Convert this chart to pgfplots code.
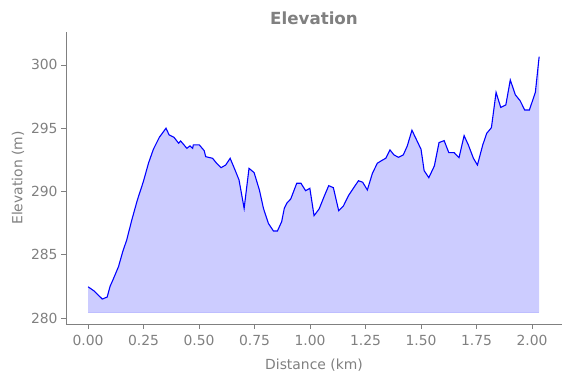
\documentclass[border=0pt]{standalone}
\usepackage{fontspec}
\setmainfont{DejaVu Sans}
\usepackage{pgfplots}
\usepackage{pgfplotstable}
\pgfplotsset{compat=1.18}
\usepgfplotslibrary{fillbetween}
\definecolor{txtgray}{RGB}{128,128,128}
\pgfplotstableread{
x y
0.000 282.47
0.028 282.13
0.064 281.50
0.086 281.66
0.099 282.50
0.114 283.10
0.137 284.06
0.156 285.24
0.174 286.17
0.197 287.75
0.222 289.33
0.249 290.78
0.272 292.23
0.294 293.33
0.321 294.28
0.351 295.00
0.365 294.47
0.387 294.28
0.408 293.81
0.417 293.99
0.445 293.41
0.459 293.60
0.471 293.41
0.474 293.68
0.501 293.68
0.523 293.23
0.530 292.75
0.561 292.62
0.579 292.23
0.599 291.88
0.620 292.09
0.640 292.62
0.662 291.70
0.680 290.91
0.703 288.67
0.725 291.83
0.748 291.49
0.772 290.10
0.790 288.67
0.812 287.49
0.835 286.88
0.853 286.88
0.872 287.61
0.884 288.67
0.895 289.07
0.913 289.41
0.940 290.65
0.959 290.65
0.980 290.06
0.999 290.25
1.018 288.09
1.041 288.62
1.063 289.59
1.084 290.46
1.105 290.30
1.129 288.48
1.150 288.85
1.173 289.67
1.195 290.25
1.218 290.85
1.237 290.73
1.258 290.12
1.281 291.44
1.303 292.23
1.327 292.49
1.341 292.62
1.360 293.28
1.378 292.89
1.398 292.70
1.420 292.89
1.438 293.60
1.459 294.84
1.480 294.07
1.500 293.33
1.514 291.64
1.535 291.09
1.560 292.02
1.581 293.86
1.604 294.02
1.625 293.07
1.649 293.07
1.671 292.67
1.694 294.41
1.713 293.68
1.736 292.62
1.754 292.09
1.778 293.68
1.796 294.60
1.817 295.04
1.838 297.83
1.859 296.64
1.882 296.84
1.902 298.81
1.925 297.63
1.946 297.18
1.967 296.44
1.988 296.44
2.015 297.83
2.032 300.65
}\elev
\begin{document}
\begin{tikzpicture}
\begin{axis}[
  scale only axis,
  width=496pt, height=292pt,
  xmin=-0.0995, xmax=2.135,
  ymin=279.53, ymax=302.6,
  axis lines=left,
  axis line style={-, txtgray, line width=0.8pt},
  tick style={txtgray, line width=0.8pt},
  tick align=outside,
  major tick length=4.9pt,
  xtick={0,0.25,0.5,0.75,1,1.25,1.5,1.75,2},
  ytick={280,285,290,295,300},
  xticklabel style={yshift=-3pt, /pgf/number format/.cd, fixed, fixed zerofill, precision=2},
  yticklabel style={/pgf/number format/.cd, fixed, precision=0},
  /pgf/number format/assume math mode=true,
  tick label style={font=\fontsize{13.9}{16}\selectfont, text=txtgray},
  label style={font=\fontsize{13.9}{16}\selectfont, text=txtgray},
  xlabel style={yshift=-6pt},
  title style={font=\fontsize{16.7}{19}\selectfont\bfseries, text=txtgray, yshift=-2pt},
  title={Elevation},
  xlabel={Distance (km)},
  ylabel={Elevation (m)},
  clip=false,
]
\addplot[draw=none, name path=top, forget plot] table[x=x,y=y] {\elev};
\addplot[draw=blue, draw opacity=0.2, line width=1pt, name path=base, forget plot] coordinates {(0,280.45) (2.032,280.45)};
\addplot[fill=blue, fill opacity=0.2, forget plot] fill between[of=top and base];
\addplot[blue, line width=1.1pt, forget plot] table[x=x,y=y] {\elev};
\end{axis}
\path (current axis.south west) ++(-66pt,-54pt) rectangle ++(571pt,378pt);
\end{tikzpicture}
\end{document}
